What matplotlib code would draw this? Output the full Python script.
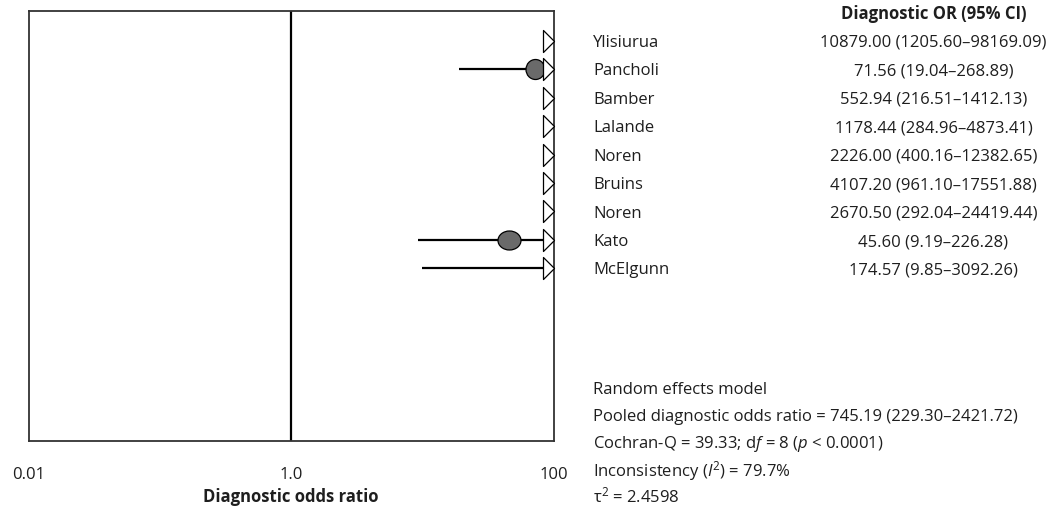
import matplotlib
matplotlib.use("Agg")
import matplotlib.pyplot as plt
import matplotlib.transforms as mtransforms
from matplotlib.markers import MarkerStyle
from matplotlib.path import Path

# Study-level diagnostic odds ratios with 95% confidence intervals
studies = ["Ylisiurua", "Pancholi", "Bamber", "Lalande", "Noren",
           "Bruins", "Noren", "Kato", "McElgunn"]
dor = [10879.00, 71.56, 552.94, 1178.44, 2226.00, 4107.20, 2670.50, 45.60, 174.57]
ci_low = [1205.60, 19.04, 216.51, 284.96, 400.16, 961.10, 292.04, 9.19, 9.85]
ci_high = [98169.09, 268.89, 1412.13, 4873.41, 12382.65, 17551.88, 24419.44, 226.28, 3092.26]

x_ticks = [0.01, 1.0, 100]
x_tick_labels = ["0.01", "1.0", "100"]

summary_lines = [
    "Random effects model",
    "Pooled diagnostic odds ratio = 745.19 (229.30\u20132421.72)",
    "Cochran-Q = 39.33; d$\\mathit{f}$ = 8 ($\\mathit{p}$ < 0.0001)",
    "Inconsistency ($\\mathit{I}^{2}$) = 79.7%",
    "$\\mathrm{\\tau}^{2}$ = 2.4598",
]

FONT = "Open Sans"
plt.rcParams["font.family"] = [FONT, "DejaVu Sans"]
plt.rcParams["mathtext.fontset"] = "custom"
plt.rcParams["mathtext.rm"] = FONT
plt.rcParams["mathtext.it"] = FONT + ":italic"
plt.rcParams["mathtext.bf"] = FONT + ":bold"

TEXT_COLOR = "#1e1e1e"
W, H = 1056, 510
fig = plt.figure(figsize=(W / 100, H / 100), dpi=100)

# plot panel placed in pixel terms
left_px, right_px, top_px, bottom_px = 28.5, 553.7, 11.7, 442.3
ax = fig.add_axes([left_px / W, 1 - bottom_px / H,
                   (right_px - left_px) / W, (bottom_px - top_px) / H])

xmin, xmax = 0.01, 100
ax.set_xscale("log")
ax.set_xlim(xmin, xmax)

row0_px, row_step_px = 41.7, 28.45
ax.set_ylim((bottom_px - row0_px) / row_step_px, (top_px - row0_px) / row_step_px)

for s in ax.spines.values():
    s.set_color("#333333")
    s.set_linewidth(1.3)

# reference line at OR = 1
ax.axvline(1.0, color="black", lw=1.6, zorder=1)

# open arrowhead pointing right, tip at the marker position
arrow = MarkerStyle(Path([(-1, -1), (0, 0), (-1, 1), (-1, -1)],
                         [Path.MOVETO, Path.LINETO, Path.LINETO, Path.CLOSEPOLY]))

# point-estimate marker footprints (width, height) in pixels
point_shape = {1: (19, 20), 7: (23, 19)}


def ellipse_marker(w, h):
    m = max(w, h)
    path = Path.unit_circle().transformed(
        mtransforms.Affine2D().scale(w / m, h / m))
    return MarkerStyle(path), m * 0.72


for i, (name, est, lo, hi) in enumerate(zip(studies, dor, ci_low, ci_high)):
    y = i
    lo_c, hi_c = max(lo, xmin), min(hi, xmax)
    if lo_c < hi_c:
        ax.plot([lo_c, hi_c], [y, y], color="black", lw=1.6,
                solid_capstyle="butt", zorder=2)
    if xmin <= est <= xmax:
        w, h = point_shape.get(i, (20, 20))
        mk, ms = ellipse_marker(w, h)
        ax.plot([est], [y], marker=mk, markersize=ms, color="#6a6a6a",
                markeredgecolor="black", markeredgewidth=0.9, ls="none",
                zorder=3)
    if hi > xmax:
        ax.plot([xmax], [y], marker=arrow, markersize=22 * 0.72,
                markerfacecolor="white", markeredgecolor="black",
                markeredgewidth=0.9, ls="none", zorder=4, clip_on=False)

ax.set_xticks(x_ticks)
ax.set_xticklabels(x_tick_labels)
ax.xaxis.set_minor_locator(matplotlib.ticker.NullLocator())
ax.tick_params(axis="x", length=0, pad=18, labelsize=12, colors=TEXT_COLOR)
ax.get_xticklabels()[-1].set_x(100)
ax.set_yticks([])
ax.set_xlabel("Diagnostic odds ratio", fontsize=12, fontweight="bold",
              color=TEXT_COLOR, va="center")
ax.xaxis.set_label_coords(0.5, -(497 - bottom_px) / (bottom_px - top_px))

# study names and OR (95% CI) column
blend = mtransforms.blended_transform_factory(fig.transFigure, ax.transData)
name_x = 593 / W
value_x = 933.5 / W
text_dy = 1.2 / row_step_px
for i, (name, est, lo, hi) in enumerate(zip(studies, dor, ci_low, ci_high)):
    ax.text(name_x, i + text_dy, name, transform=blend, ha="left",
            va="center", fontsize=12, color=TEXT_COLOR)
    ax.text(value_x, i + text_dy, f"{est:.2f} ({lo:.2f}\u2013{hi:.2f})",
            transform=blend, ha="center", va="center", fontsize=12,
            color=TEXT_COLOR)

fig.text(value_x, 1 - 14 / H, "Diagnostic OR (95% CI)", ha="center",
         va="center", fontsize=12, fontweight="bold", color=TEXT_COLOR)

summary_y_px = [390, 417, 444, 470.7, 496]
for line, ypx in zip(summary_lines, summary_y_px):
    fig.text(name_x, 1 - ypx / H, line, ha="left", va="center", fontsize=12,
             color=TEXT_COLOR)

fig.savefig("out.png", dpi=100, facecolor="white")
